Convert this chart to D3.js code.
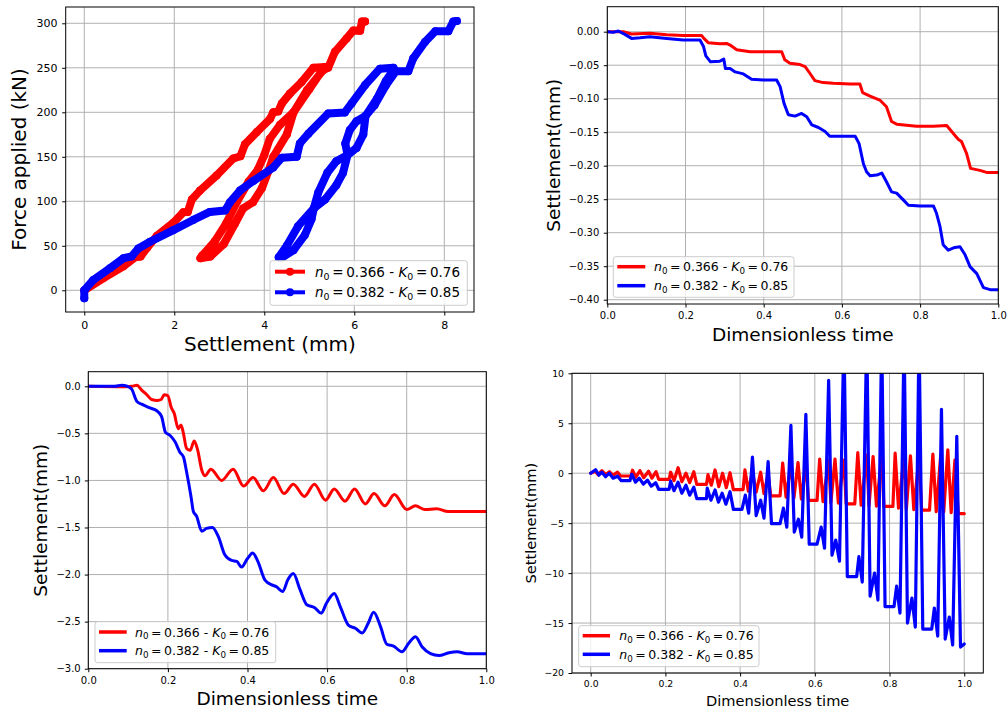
<!DOCTYPE html>
<html><head><meta charset="utf-8">
<script src="https://cdn.jsdelivr.net/npm/d3@7"></script>
<style>
body{margin:0;background:#fff}
svg{display:block}
text{font-family:"DejaVu Sans",sans-serif;fill:#000}
</style>
</head><body>
<svg id="chart" width="1008" height="712"></svg>
<script>
// ---------------- DATA ----------------
const seriesNames = [["0.366", "0.76"], ["0.382", "0.85"]];
const seriesColors = ["red", "blue"];

// Panel 1: force applied (kN) vs settlement (mm)  [settlement, force]
const p1Red = [
  [0,0],[0.42,13.5],[0.87,27],[1.13,37],[1.25,38],[1.4,48],[1.61,61],[1.98,76],[2.2,87.6],[2.3,88],[2.39,102],[2.57,112],[2.94,129],[3.31,148],[3.47,150.6],[3.57,164],[3.83,177.6],[4.13,192.6],[4.2,200],[4.31,201],[4.39,210],[4.57,221],[4.83,234],[5.09,250],[5.35,251],
  [5.3,248],[5.0,226],[4.65,200],[4.35,186],[4.12,170],[4.0,152],[3.85,135],[3.65,122],[3.4,100],[3.15,75],[2.9,55],[2.62,39],
  [2.58,36],[2.8,38],[3.1,52],[3.35,75],[3.53,92],[3.75,99],[3.95,115],[4.1,135],[4.2,150],[4.5,175],[4.65,200],[4.95,225],[5.3,247],[5.42,250],[5.57,268],[5.83,283],[5.98,292],[6.13,291.5],[6.17,302],[6.24,302]
];
const p1Blue = [
  [0,-9],[0,0],[0.2,11.6],[0.57,24.7],[0.87,36],[1.05,38],[1.2,47],[1.46,54.5],[1.98,67.6],[2.42,79],[2.79,88],[3.13,89.7],[3.24,99],[3.46,112],[3.76,123],[4.2,138],[4.39,149],[4.72,150],[4.79,165],[4.98,176],[5.42,198.7],[5.79,199.8],[5.94,210],[6.24,230.6],[6.57,249],[6.87,250],
  [6.92,246],[6.7,230],[6.45,208],[6.25,196],[6.2,175],[6.05,160],[5.85,152],[5.6,145],[5.4,132],[5.2,110],[5.1,92],[5.05,80],[4.9,62],[4.65,45],[4.4,37],
  [4.32,37],[4.5,50],[4.75,72],[5.1,92],[5.35,102],[5.6,118],[5.75,132],[5.85,152],[5.8,165],[5.9,180],[6.05,190],[6.25,196],[6.5,215],[6.7,235],[6.85,246],[7.2,246],[7.31,260.6],[7.57,279],[7.8,291],[8.09,291],[8.2,302],[8.28,302.6]
];

// Panel 2: settlement (mm) vs dimensionless time  [t, settlement]
const p2Red = [
  [0,0],[0.041,0],[0.062,-0.0035],[0.109,-0.0025],[0.152,-0.0045],[0.194,-0.0055],[0.241,-0.0055],[0.247,-0.01],[0.258,-0.0164],[0.288,-0.018],[0.305,-0.0175],[0.314,-0.02],[0.331,-0.027],[0.365,-0.03],[0.407,-0.03],[0.446,-0.03],[0.454,-0.042],[0.467,-0.047],[0.493,-0.049],[0.506,-0.052],[0.518,-0.062],[0.531,-0.073],[0.552,-0.076],[0.578,-0.077],[0.621,-0.078],[0.646,-0.078],[0.653,-0.091],[0.672,-0.096],[0.697,-0.102],[0.714,-0.112],[0.727,-0.134],[0.74,-0.138],[0.791,-0.141],[0.834,-0.141],[0.868,-0.14],[0.885,-0.152],[0.898,-0.161],[0.906,-0.164],[0.919,-0.182],[0.929,-0.204],[0.953,-0.207],[0.97,-0.21],[1.0,-0.21]
];
const p2Blue = [
  [0,0],[0.015,-0.001],[0.028,0.001],[0.045,-0.004],[0.062,-0.01],[0.084,-0.009],[0.109,-0.0075],[0.152,-0.01],[0.194,-0.0125],[0.237,-0.0125],[0.246,-0.022],[0.252,-0.036],[0.264,-0.045],[0.288,-0.044],[0.298,-0.041],[0.302,-0.055],[0.314,-0.055],[0.327,-0.06],[0.348,-0.063],[0.369,-0.071],[0.399,-0.072],[0.433,-0.072],[0.442,-0.082],[0.452,-0.107],[0.463,-0.124],[0.48,-0.126],[0.497,-0.122],[0.51,-0.127],[0.523,-0.139],[0.54,-0.143],[0.557,-0.149],[0.569,-0.156],[0.604,-0.156],[0.634,-0.156],[0.644,-0.167],[0.655,-0.197],[0.663,-0.209],[0.672,-0.215],[0.689,-0.214],[0.702,-0.211],[0.714,-0.224],[0.727,-0.239],[0.74,-0.241],[0.757,-0.251],[0.77,-0.259],[0.8,-0.26],[0.834,-0.26],[0.842,-0.271],[0.851,-0.291],[0.859,-0.318],[0.872,-0.326],[0.889,-0.322],[0.902,-0.321],[0.915,-0.333],[0.928,-0.351],[0.945,-0.361],[0.962,-0.382],[0.979,-0.385],[1.0,-0.385]
];

// Panel 3
const p3Red = [
  [0,0],[0.093,-0.005],[0.11,0],[0.122,0.01],[0.134,-0.04],[0.147,-0.09],[0.159,-0.14],[0.174,-0.15],[0.183,-0.14],[0.191,-0.09],[0.2,-0.1],[0.208,-0.22],[0.216,-0.29],[0.226,-0.45],[0.233,-0.41],[0.239,-0.5],[0.247,-0.66],[0.256,-0.68],[0.266,-0.58],[0.275,-0.68],[0.285,-0.89],[0.293,-0.95],[0.308,-0.88],[0.335,-1.0],[0.364,-0.88],[0.39,-1.06],[0.414,-0.97],[0.44,-1.11],[0.465,-0.97],[0.492,-1.14],[0.515,-1.04],[0.543,-1.17],[0.568,-1.04],[0.596,-1.21],[0.618,-1.09],[0.645,-1.22],[0.669,-1.09],[0.696,-1.25],[0.718,-1.14],[0.745,-1.27],[0.769,-1.15],[0.8,-1.31],[0.822,-1.27],[0.846,-1.31],[0.875,-1.3],[0.904,-1.33],[1.0,-1.33]
];
const p3Blue = [
  [0,0],[0.067,0],[0.084,0.01],[0.098,0],[0.109,-0.03],[0.122,-0.16],[0.134,-0.19],[0.155,-0.23],[0.172,-0.26],[0.184,-0.32],[0.194,-0.49],[0.205,-0.52],[0.218,-0.59],[0.23,-0.7],[0.239,-0.75],[0.247,-0.91],[0.258,-1.17],[0.264,-1.33],[0.272,-1.38],[0.285,-1.54],[0.297,-1.51],[0.312,-1.5],[0.327,-1.6],[0.343,-1.79],[0.36,-1.85],[0.373,-1.86],[0.385,-1.92],[0.4,-1.83],[0.413,-1.77],[0.426,-1.86],[0.444,-2.06],[0.461,-2.11],[0.473,-2.13],[0.488,-2.18],[0.502,-2.05],[0.515,-1.99],[0.532,-2.16],[0.549,-2.32],[0.568,-2.35],[0.585,-2.41],[0.599,-2.3],[0.618,-2.2],[0.633,-2.34],[0.654,-2.54],[0.671,-2.57],[0.688,-2.62],[0.703,-2.52],[0.717,-2.4],[0.734,-2.55],[0.75,-2.74],[0.767,-2.76],[0.788,-2.82],[0.805,-2.73],[0.822,-2.66],[0.839,-2.77],[0.86,-2.84],[0.881,-2.86],[0.906,-2.83],[0.927,-2.82],[0.952,-2.84],[1.0,-2.84]
];

// Panel 4
const p4Red = [
  [0,0],[0.012,0.2],[0.02,-0.15],[0.03,0.25],[0.04,-0.15],[0.05,0.15],[0.06,-0.2],[0.072,0.1],[0.08,-0.28],[0.108,-0.28],
  [0.112,0.3],[0.121,-0.4],[0.132,0.25],[0.142,-0.45],[0.155,0.2],[0.164,-0.5],[0.175,0.15],[0.182,-0.61],[0.21,-0.61],
  [0.214,0.1],[0.223,-0.75],[0.234,0.55],[0.244,-0.85],[0.255,0.0],[0.265,-0.95],[0.276,0.15],[0.284,-1.11],[0.31,-1.11],
  [0.314,-0.15],[0.323,-1.2],[0.333,0.32],[0.343,-1.35],[0.353,0.0],[0.363,-1.45],[0.373,0.05],[0.382,-1.65],[0.408,-1.65],
  [0.413,0.33],[0.422,-1.8],[0.433,0.2],[0.443,-1.9],[0.455,0.1],[0.464,-2.05],[0.475,-0.1],[0.482,-2.27],[0.507,-2.27],
  [0.514,1.0],[0.523,-2.4],[0.536,0.9],[0.544,-2.5],[0.555,1.05],[0.564,-2.6],[0.576,0.9],[0.583,-2.73],[0.606,-2.73],
  [0.613,1.4],[0.622,-2.85],[0.637,1.3],[0.643,-2.95],[0.654,1.4],[0.663,-3.0],[0.678,1.3],[0.684,-3.07],[0.707,-3.07],
  [0.715,2.05],[0.724,-3.2],[0.739,1.8],[0.745,-3.25],[0.756,1.65],[0.765,-3.3],[0.779,1.7],[0.785,-3.33],[0.809,-3.33],
  [0.815,2.0],[0.824,-3.5],[0.839,1.8],[0.845,-3.6],[0.856,1.73],[0.865,-3.65],[0.879,1.7],[0.886,-3.7],[0.907,-3.7],
  [0.916,1.9],[0.925,-3.85],[0.937,1.8],[0.945,-3.9],[0.956,2.33],[0.965,-3.95],[0.975,1.3],[0.984,-4.05],[1.0,-4.05]
];
const p4Blue = [
  [0,0],[0.013,0.35],[0.022,-0.2],[0.03,0.1],[0.04,-0.35],[0.05,0.0],[0.06,-0.5],[0.072,-0.3],[0.082,-0.75],[0.105,-0.75],
  [0.11,-0.11],[0.12,-0.9],[0.13,-0.5],[0.141,-1.1],[0.152,-0.7],[0.162,-1.3],[0.174,-0.95],[0.182,-1.61],[0.21,-1.61],
  [0.214,-0.8],[0.223,-1.75],[0.234,-0.9],[0.244,-2.0],[0.255,-1.2],[0.265,-2.2],[0.276,-1.4],[0.284,-2.55],[0.31,-2.55],
  [0.312,-1.5],[0.322,-2.7],[0.333,-1.68],[0.342,-2.9],[0.352,-2.0],[0.362,-3.1],[0.373,-1.85],[0.382,-3.62],[0.405,-3.62],
  [0.414,-2.2],[0.423,-4.0],[0.433,1.6],[0.443,-4.25],[0.455,-2.7],[0.464,-4.5],[0.475,1.17],[0.484,-5.05],[0.507,-5.05],
  [0.516,-3.5],[0.525,-5.4],[0.536,4.8],[0.545,-5.9],[0.556,-4.6],[0.565,-6.4],[0.576,5.9],[0.585,-7.1],[0.606,-7.1],
  [0.617,-5.4],[0.626,-7.5],[0.637,9.3],[0.646,-8.2],[0.656,-6.7],[0.666,-8.8],[0.678,14],[0.687,-10.35],[0.712,-10.35],
  [0.718,-8.35],[0.727,-10.9],[0.739,14],[0.748,-12.3],[0.76,-10.0],[0.769,-12.7],[0.779,14],[0.788,-13.35],[0.812,-13.35],
  [0.819,-11.3],[0.828,-14.0],[0.839,14],[0.848,-15.0],[0.86,-12.5],[0.869,-15.4],[0.879,14],[0.889,-15.6],[0.913,-15.6],
  [0.92,-13.5],[0.929,-16.3],[0.939,6.4],[0.949,-16.6],[0.96,-14.4],[0.969,-17.2],[0.98,3.7],[0.99,-17.4],[1.0,-17.1]
];

// Tick values
const p1XTicks = [0, 2, 4, 6, 8];
const p1YTicks = [0, 50, 100, 150, 200, 250, 300];
const timeTicks = [0, 0.2, 0.4, 0.6, 0.8, 1.0];
const p2YTicks = [0, -0.05, -0.1, -0.15, -0.2, -0.25, -0.3, -0.35, -0.4];
const p3YTicks = [0, -0.5, -1.0, -1.5, -2.0, -2.5, -3.0];
const p4YTicks = [10, 5, 0, -5, -10, -15, -20];

// ---------------- DRAWING ----------------
const svg = d3.select("#chart");
let clipId = 0;

function drawPanel(cfg) {
  const x = d3.scaleLinear().domain(cfg.xDomain).range([cfg.left, cfg.right]);
  const y = d3.scaleLinear().domain(cfg.yDomain).range([cfg.bottom, cfg.top]);
  const g = svg.append("g");

  // grid
  g.append("g").selectAll("line").data(cfg.xTicks).join("line")
    .attr("x1", d => x(d)).attr("x2", d => x(d)).attr("y1", cfg.top).attr("y2", cfg.bottom)
    .attr("stroke", "#b0b0b0").attr("stroke-width", 1);
  g.append("g").selectAll("line").data(cfg.yTicks).join("line")
    .attr("y1", d => y(d)).attr("y2", d => y(d)).attr("x1", cfg.left).attr("x2", cfg.right)
    .attr("stroke", "#b0b0b0").attr("stroke-width", 1);

  // clip
  const id = "clip" + (clipId++);
  svg.append("defs").append("clipPath").attr("id", id).append("rect")
    .attr("x", cfg.left).attr("y", cfg.top).attr("width", cfg.right - cfg.left).attr("height", cfg.bottom - cfg.top);
  const plot = g.append("g").attr("clip-path", `url(#${id})`);

  const line = d3.line().x(d => x(d[0])).y(d => y(d[1])).curve(cfg.curve);
  cfg.series.forEach((s, i) => {
    plot.append("path").attr("d", line(s)).attr("fill", "none")
      .attr("stroke", seriesColors[i]).attr("stroke-width", cfg.lineWidth)
      .attr("stroke-linejoin", "round").attr("stroke-linecap", "round");
    if (cfg.markers) {
      plot.append("g").selectAll("circle").data(s).join("circle")
        .attr("cx", d => x(d[0])).attr("cy", d => y(d[1])).attr("r", cfg.markerR)
        .attr("fill", seriesColors[i]);
    }
  });

  // spines
  g.append("rect").attr("x", cfg.left).attr("y", cfg.top)
    .attr("width", cfg.right - cfg.left).attr("height", cfg.bottom - cfg.top)
    .attr("fill", "none").attr("stroke", "#000").attr("stroke-width", 1);

  // axes
  const xa = g.append("g").attr("transform", `translate(0,${cfg.bottom})`)
    .call(d3.axisBottom(x).tickValues(cfg.xTicks).tickFormat(cfg.xFormat).tickSize(3.5).tickPadding(cfg.xPad));
  const ya = g.append("g").attr("transform", `translate(${cfg.left},0)`)
    .call(d3.axisLeft(y).tickValues(cfg.yTicks).tickFormat(cfg.yFormat).tickSize(3.5).tickPadding(cfg.yPad));
  [xa, ya].forEach(a => {
    a.select(".domain").remove();
    a.selectAll("text").attr("font-size", cfg.tickFont).attr("font-family", "DejaVu Sans").attr("fill", "#000");
    a.selectAll("line").attr("stroke", "#000");
  });

  // axis labels
  g.append("text").attr("x", (cfg.left + cfg.right) / 2).attr("y", cfg.xLabelY)
    .attr("text-anchor", "middle").attr("font-size", cfg.labelFont).text(cfg.xLabel);
  g.append("text").attr("transform", `translate(${cfg.yLabelX},${(cfg.top + cfg.bottom) / 2}) rotate(-90)`)
    .attr("text-anchor", "middle").attr("font-size", cfg.labelFont).text(cfg.yLabel);

  // legend
  const L = cfg.legend;
  const lg = g.append("g");
  lg.append("rect").attr("x", L.x).attr("y", L.y).attr("width", L.w).attr("height", L.h)
    .attr("rx", 2.5).attr("fill", "#fff").attr("fill-opacity", 0.8)
    .attr("stroke", "#cccccc").attr("stroke-width", 1);
  seriesNames.forEach((nm, i) => {
    const cy = L.y + L.row0 + i * L.rowGap;
    lg.append("line").attr("x1", L.x + L.lx0).attr("x2", L.x + L.lx1).attr("y1", cy).attr("y2", cy)
      .attr("stroke", seriesColors[i]).attr("stroke-width", L.lw);
    if (cfg.markers) {
      lg.append("circle").attr("cx", L.x + (L.lx0 + L.lx1) / 2).attr("cy", cy).attr("r", L.mr).attr("fill", seriesColors[i]);
    }
    const t = lg.append("text").attr("x", L.x + L.tx).attr("y", cy + L.fs * 0.36).attr("font-size", L.fs);
    t.append("tspan").attr("font-style", "italic").text("n");
    t.append("tspan").attr("font-size", L.fs * 0.7).attr("dy", L.fs * 0.22).text("0");
    t.append("tspan").attr("dy", -L.fs * 0.22).text("\u2009=\u20090.366".replace("0.366", nm[0]) + " - ");
    t.append("tspan").attr("font-style", "italic").text("K");
    t.append("tspan").attr("font-size", L.fs * 0.7).attr("dy", L.fs * 0.22).text("0");
    t.append("tspan").attr("dy", -L.fs * 0.22).text("\u2009=\u2009" + nm[1]);
  });
}

const f2 = d3.format(".2f"), f1 = d3.format(".1f"), fd = d3.format("d");

drawPanel({
  left: 65.7, right: 474, top: 7, bottom: 312,
  xDomain: [-0.413, 8.66], yDomain: [-24.4, 318.3],
  xTicks: p1XTicks, yTicks: p1YTicks, xFormat: fd, yFormat: fd,
  xPad: 6, yPad: 4.8, tickFont: 11,
  series: [p1Red, p1Blue], curve: d3.curveLinear, lineWidth: 8, markers: true, markerR: 4,
  xLabel: "Settlement (mm)", yLabel: "Force applied (kN)", labelFont: 20, xLabelY: 351.3, yLabelX: 26.3,
  legend: {x: 270, y: 260.7, w: 197.3, h: 44.6, row0: 11, rowGap: 20.6, lx0: 5, lx1: 35, lw: 4, mr: 4, tx: 45, fs: 13.5}
});

drawPanel({
  left: 607.3, right: 998.3, top: 6.7, bottom: 304,
  xDomain: [0, 1], yDomain: [-0.4064, 0.0373],
  xTicks: timeTicks, yTicks: p2YTicks, xFormat: f1, yFormat: f2,
  xPad: 4.2, yPad: 4.5, tickFont: 10,
  series: [p2Red, p2Blue], curve: d3.curveLinear, lineWidth: 3, markers: false,
  xLabel: "Dimensionless time", yLabel: "Settlement(mm)", labelFont: 18.5, xLabelY: 340.5, yLabelX: 560.2,
  legend: {x: 613.3, y: 256.7, w: 180.7, h: 40.6, row0: 10, rowGap: 19, lx0: 4, lx1: 32, lw: 3.5, tx: 40.7, fs: 12.5}
});

drawPanel({
  left: 88.3, right: 486.3, top: 371.7, bottom: 668.7,
  xDomain: [0, 1], yDomain: [-3.0, 0.155],
  xTicks: timeTicks, yTicks: p3YTicks, xFormat: f1, yFormat: f1,
  xPad: 5.1, yPad: 4.1, tickFont: 10,
  series: [p3Red, p3Blue], curve: d3.curveMonotoneX, lineWidth: 3, markers: false,
  xLabel: "Dimensionless time", yLabel: "Settlement(mm)", labelFont: 18.5, xLabelY: 705.2, yLabelX: 46.8,
  legend: {x: 95, y: 621.7, w: 180.7, h: 41, row0: 10.3, rowGap: 18.7, lx0: 4, lx1: 31.7, lw: 3.5, tx: 40, fs: 12.5}
});

drawPanel({
  left: 572, right: 983.3, top: 373.3, bottom: 673,
  xDomain: [-0.05, 1.051], yDomain: [-20, 10],
  xTicks: timeTicks, yTicks: p4YTicks, xFormat: f1, yFormat: fd,
  xPad: 4.2, yPad: 4.5, tickFont: 9.3,
  series: [p4Red, p4Blue], curve: d3.curveLinear, lineWidth: 3.2, markers: false,
  xLabel: "Dimensionless time", yLabel: "Settlement(mm)", labelFont: 14.6, xLabelY: 705.7, yLabelX: 536.3,
  legend: {x: 578.7, y: 625.7, w: 180.3, h: 41, row0: 10, rowGap: 18.6, lx0: 4, lx1: 31.3, lw: 3.5, tx: 40.6, fs: 12.5}
});
</script>
</body></html>
